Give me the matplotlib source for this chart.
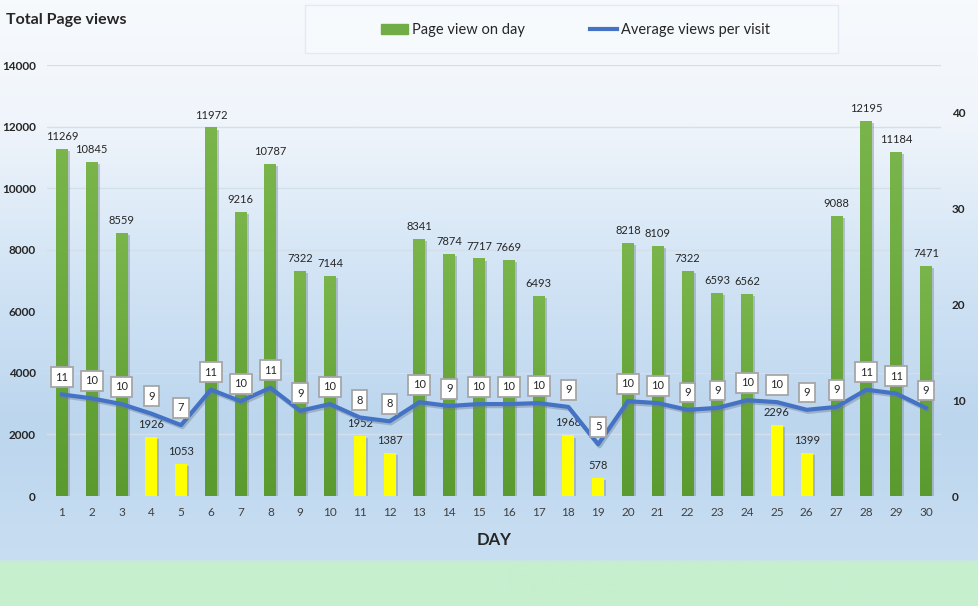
import numpy as np
import matplotlib
matplotlib.use('Agg')
import matplotlib.pyplot as plt
import matplotlib.patheffects as pe
from matplotlib.colors import LinearSegmentedColormap
from matplotlib.patches import Rectangle
from matplotlib.lines import Line2D

plt.rcParams['font.family'] = ['Lato', 'DejaVu Sans']

days = list(range(1, 31))
page_views = [11269, 10845, 8559, 1926, 1053, 11972, 9216, 10787, 7322, 7144,
              1952, 1387, 8341, 7874, 7717, 7669, 6493, 1968, 578, 8218,
              8109, 7322, 6593, 6562, 2296, 1399, 9088, 12195, 11184, 7471]
avg_views = [10.6, 10.2, 9.6, 8.6, 7.4, 11.1, 9.9, 11.3, 8.9, 9.6,
             8.2, 7.8, 9.8, 9.4, 9.6, 9.6, 9.7, 9.3, 5.4, 9.9,
             9.7, 9.0, 9.2, 10.0, 9.8, 9.0, 9.3, 11.1, 10.7, 9.2]
low_days = [4, 5, 11, 12, 18, 19, 25, 26]

fig = plt.figure(figsize=(9.79, 6.06), dpi=100)

# background gradient
bg = fig.add_axes([0, 0, 1, 1], zorder=-10)
bg_cmap = LinearSegmentedColormap.from_list('bg', [
    (0.0, '#c6efce'), (0.07, '#c6efce'), (0.075, '#c8def2'),
    (0.3, '#bcd6ee'), (0.55, '#d2e4f5'), (0.8, '#f0f5fb'), (1.0, '#f7fafd')])
grad = np.linspace(0, 1, 600).reshape(-1, 1)
bg.imshow(grad, aspect='auto', cmap=bg_cmap, origin='lower', extent=[0, 1, 0, 1])
bg.set_xlim(0, 1)
bg.set_ylim(0, 1)
bg.axis('off')

ax = fig.add_axes([0.048, 0.1815, 0.913, 0.7112])
ax.patch.set_alpha(0)
for s in ax.spines.values():
    s.set_visible(False)

green_cmap = LinearSegmentedColormap.from_list('g', ['#5a9a2e', '#79b54b'])
bar_w = 0.4
shadow = [pe.SimplePatchShadow(offset=(1.5, -1.5), shadow_rgbFace='#7f8a99', alpha=0.45), pe.Normal()]
for d, v in zip(days, page_views):
    if d in low_days:
        r = ax.bar(d, v, width=bar_w, color='#ffff00', zorder=2)[0]
        r.set_path_effects(shadow)
    else:
        r = ax.bar(d, v, width=bar_w, color='#6aa83c', zorder=2)[0]
        r.set_path_effects(shadow)
        im = ax.imshow(np.linspace(0, 1, 100).reshape(-1, 1), cmap=green_cmap, origin='lower',
                       extent=[d - bar_w / 2, d + bar_w / 2, 0, v], aspect='auto', zorder=2.1)
        im.set_clip_path(r)
    ax.annotate(str(v), (d, v), xytext=(0, 5), textcoords='offset points',
                ha='center', va='bottom', fontsize=8, color='#262626')

ax.set_xlim(0.5, 30.5)
ax.set_ylim(0, 14000)
ax.set_yticks(range(0, 14001, 2000))
ax.set_xticks(days)
ax.tick_params(length=0, labelsize=8.5, colors='#404040', pad=8)
for t in ax.get_yticklabels():
    t.set_fontweight('bold')
    t.set_color('#262626')
ax.grid(axis='y', color='#d3dfeb', linewidth=1, zorder=0)
ax.set_axisbelow(True)
ax.set_xlabel('DAY', fontsize=12, fontweight='bold', color='#262626', labelpad=10)

ax2 = ax.twinx()
for s in ax2.spines.values():
    s.set_visible(False)
ax2.set_ylim(0, 45)
ax2.set_yticks([0, 10, 20, 30, 40])
ax2.tick_params(length=0, labelsize=8.5, pad=8)
for t in ax2.get_yticklabels():
    t.set_fontweight('bold')
    t.set_color('#262626')
ax2.plot(days, avg_views, color='#4472c4', linewidth=3.0, solid_joinstyle='round',
         path_effects=[pe.SimpleLineShadow(offset=(1, -1.5), shadow_color='#6d7a8c', alpha=0.4), pe.Normal()],
         zorder=3)
for d, a in zip(days, avg_views):
    ax2.annotate(str(int(round(a))), (d, a), xytext=(0, 12.5), textcoords='offset points',
                 ha='center', va='center', fontsize=8, color='#262626',
                 bbox=dict(boxstyle='square,pad=0.4', fc='white', ec='#a6a6a6', lw=1.3))

fig.text(0.006, 0.967, 'Total Page views', fontsize=11.5, fontweight='bold', color='#262626',
         ha='left', va='center')

# legend box
fig.patches.append(Rectangle((305 / 979, 1 - 53 / 606), 533 / 979, 48 / 606,
                             transform=fig.transFigure, fc='#f7fafd', ec='#e3eaf3', lw=1,
                             zorder=-5))
handles = [Rectangle((0, 0), 1, 1, color='#70ad47'),
           Line2D([0], [0], color='#4472c4', linewidth=3.0)]
leg = fig.legend(handles, ['Page view on day', 'Average views per visit'], ncol=2,
                 loc='center', bbox_to_anchor=(0.588, 0.95), frameon=False, fontsize=10.5,
                 columnspacing=4.5, handlelength=1.8, handletextpad=0.3)
for t in leg.get_texts():
    t.set_color('#262626')

fig.savefig('out.png', dpi=100)
